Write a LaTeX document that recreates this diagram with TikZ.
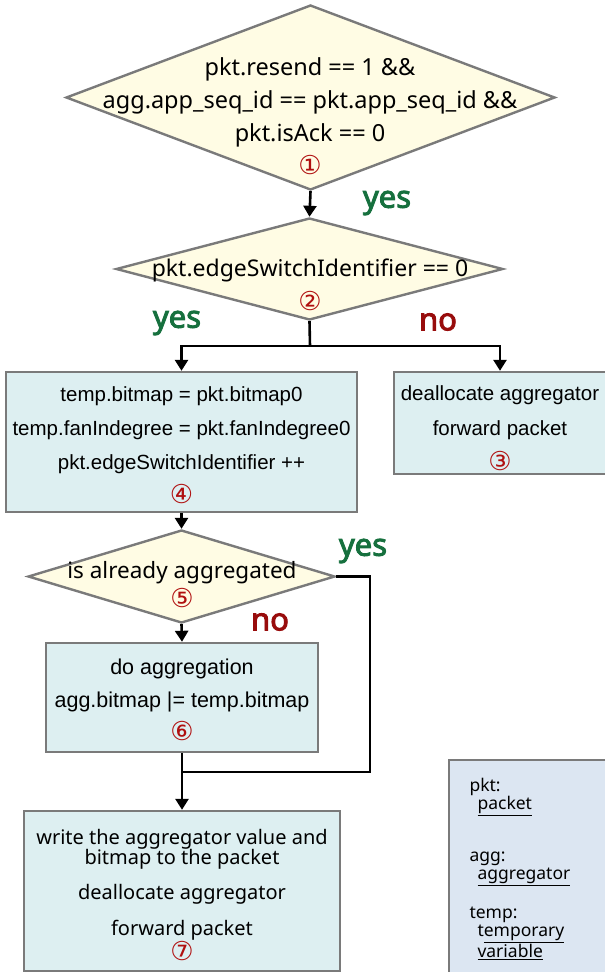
\documentclass[tikz,border=0pt]{standalone}
\usepackage{fontspec}
\setmainfont{Noto Sans}
\newfontfamily\arialfont{Liberation Sans}
\newfontfamily\circfont{DejaVu Sans}
\newfontfamily\lblfont[FakeBold=3]{Noto Sans}
\usetikzlibrary{shapes.geometric, arrows.meta, positioning}
\definecolor{condfill}{HTML}{FFFCE4}
\definecolor{actfill}{HTML}{DDEFF1}
\definecolor{legfill}{HTML}{DCE6F2}
\definecolor{framegray}{HTML}{7A7A7A}
\definecolor{yesgreen}{HTML}{16703E}
\definecolor{nored}{HTML}{980C0C}
\definecolor{numred}{HTML}{B01010}
\newcommand{\cnum}[1]{{\circfont\fontsize{26}{26}\selectfont\color{numred}#1}}
\tikzset{
x=1pt, y=-1pt, % one unit is one pixel of the sketch, y runs down
decision/.style={diamond, draw=framegray, line width=2.4pt, fill=condfill, inner sep=0pt}, % the tests
action/.style={rectangle, draw=framegray, line width=2.4pt, fill=actfill, inner sep=0pt}, % the steps
flow/.style={-{Triangle[width=13pt,length=11pt]}, line width=2.6pt}, % arrows between steps
wire/.style={line width=2.6pt}, % plain joining lines
yeslbl/.style={font=\lblfont\fontsize{31}{32}\selectfont, text=yesgreen},
nolbl/.style={font=\lblfont\fontsize{31}{32}\selectfont, text=nored},
}

\begin{document}
\begin{tikzpicture}
            \useasboundingbox (0,0) rectangle (605,972);
            % tests
            \node[decision, minimum width=489, minimum height=185] (d1) at (310.5,97.5) {};
            \node[align=center, font=\fontsize{23.5}{33}\selectfont] (d1txt) at (310,116)
                {pkt.resend == 1 \&\&\\agg.app\_seq\_id == pkt.app\_seq\_id \&\&\\pkt.isAck == 0\\\cnum{①}};
            \node[decision, minimum width=387, minimum height=102] (d2) at (309.5,269) {};
            \node[align=center, font=\fontsize{23}{34}\selectfont] (d2txt) at (310,285)
                {pkt.edgeSwitchIdentifier == 0\\\cnum{②}};
            % steps
            \node[action, minimum width=351, minimum height=140] (box4) at (181.5,442) {};
            \node[align=center, font=\arialfont\fontsize{20.5}{34}\selectfont] (box4txt) at (181.5,445)
                {temp.bitmap = pkt.bitmap0\\temp.fanIndegree = pkt.fanIndegree0\\pkt.edgeSwitchIdentifier ++\\\cnum{④}};
            \node[action, minimum width=212, minimum height=102] (box3) at (500,423) {};
            \node[align=center, font=\arialfont\fontsize{20.5}{35}\selectfont] (box3txt) at (500,428)
                {deallocate aggregator\\forward packet\\\cnum{③}};
            \node[decision, minimum width=307, minimum height=93] (d5) at (181.5,576.5) {};
            \node[align=center, font=\fontsize{22.5}{29}\selectfont] (d5txt) at (182,585)
                {is already aggregated\\\cnum{⑤}};
            \node[action, minimum width=272, minimum height=109] (box6) at (182,697.5) {};
            \node[align=center, font=\arialfont\fontsize{21.5}{33}\selectfont] (box6txt) at (182,700)
                {do aggregation\\agg.bitmap |= temp.bitmap\\\cnum{⑥}};
            \node[action, minimum width=316, minimum height=160] (box7) at (182,891) {};
            \node[align=center, font=\fontsize{20}{20}\selectfont] (box7txt) at (182,895)
                {write the aggregator value and\\bitmap to the packet\\[15pt]deallocate aggregator\\[15pt]forward packet\\\cnum{⑦}};
            % legend
            \node[rectangle, draw=framegray, line width=1.6pt, fill=legfill, minimum width=163, minimum height=216] (legend) at (530.5,868) {};
            \node[align=left, anchor=north west, font=\fontsize{17.5}{18}\selectfont] (legtxt) at (466,775)
                {pkt:\\\hspace*{8pt}\underline{packet}\\[34pt]agg:\\\hspace*{8pt}\underline{aggregator}\\[21pt]temp:\\\hspace*{8pt}t\underline{emporary}\\\hspace*{8pt}\underline{variable}};
            % connectors
            \coordinate (split) at (310,346);
            \coordinate (yesturn) at (370,772);
            \coordinate (join) at (182,772);
            \draw[flow] (d1.south) -- (d2.north);
            \draw[wire] (d2.south) -- (split);
            \draw[flow] (split) -| (box4.north);
            \draw[flow] (split) -| (box3.north);
            \draw[flow] (box4.south) -- (d5.north);
            \draw[flow] (d5.south) -- (box6.north);
            \draw[wire] (d5.east) -| (yesturn) -- (join);
            \draw[flow] (box6.south) -- (box7.north);
            % branch labels
            \node[yeslbl] (yes1) at (387,203) {yes};
            \node[yeslbl] (yes2) at (177,323) {yes};
            \node[nolbl] (no2) at (438,322) {no};
            \node[yeslbl] (yes5) at (363,551) {yes};
            \node[nolbl] (no5) at (270,622) {no};
            \end{tikzpicture}
\end{document}
